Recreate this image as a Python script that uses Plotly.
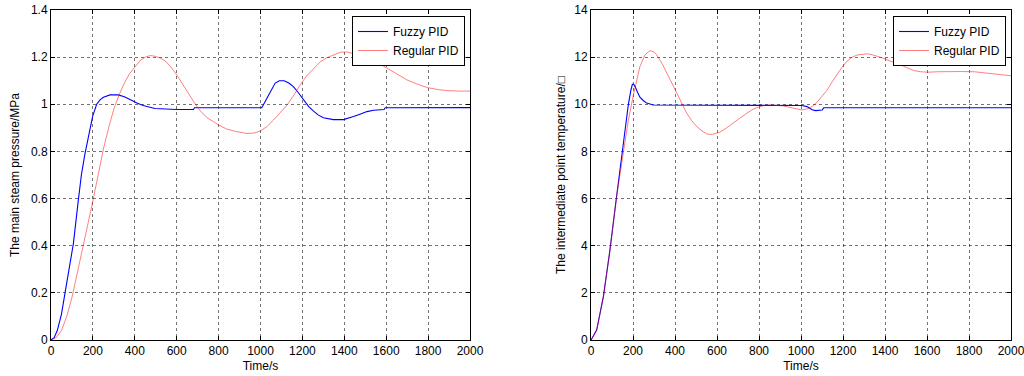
import plotly.graph_objects as go

# ---------------- data ----------------
# Left chart: main steam pressure (MPa)
p_fuzzy_t = [0, 15, 30, 50, 67, 85, 107, 130, 145, 162, 183, 199, 218, 235, 250, 282, 321, 350,
             377, 410, 440, 470, 496, 600, 680, 685, 1006, 1030, 1050, 1070, 1090, 1113, 1135,
             1157, 1180, 1205, 1230, 1252, 1275, 1300, 1348, 1396, 1420, 1444, 1475, 1508, 1540,
             1571, 1590, 1595, 2000]
p_fuzzy_v = [0, 0.01, 0.04, 0.11, 0.2, 0.3, 0.41, 0.59, 0.70, 0.79, 0.89, 0.95, 1.0, 1.02, 1.03,
             1.04, 1.04, 1.032, 1.02, 1.005, 0.995, 0.988, 0.982, 0.978, 0.978, 0.985, 0.985,
             1.025, 1.06, 1.09, 1.10, 1.10, 1.09, 1.075, 1.05, 1.018, 0.99, 0.972, 0.955, 0.943,
             0.935, 0.935, 0.94, 0.948, 0.958, 0.969, 0.975, 0.977, 0.978, 0.985, 0.986]

p_regular_t = [0, 25, 50, 75, 100, 125, 150, 175, 200, 225, 250, 275, 300, 325, 350, 375, 400,
               425, 450, 475, 500, 525, 550, 575, 600, 625, 650, 675, 700, 725, 750, 776, 800,
               839, 880, 935, 970, 1000, 1030, 1063, 1095, 1127, 1160, 1191, 1220, 1254, 1285,
               1318, 1350, 1382, 1410, 1446, 1490, 1541, 1605, 1650, 1700, 1750, 1796, 1850,
               1892, 1950, 2000]
p_regular_v = [0, 0.01, 0.04, 0.1, 0.18, 0.28, 0.38, 0.48, 0.59, 0.7, 0.81, 0.9, 0.98, 1.04,
               1.09, 1.13, 1.16, 1.185, 1.2, 1.207, 1.203, 1.195, 1.18, 1.155, 1.125, 1.09,
               1.055, 1.02, 0.985, 0.96, 0.94, 0.926, 0.912, 0.895, 0.885, 0.876, 0.878, 0.887,
               0.905, 0.934, 0.965, 0.997, 1.04, 1.085, 1.12, 1.153, 1.18, 1.198, 1.21, 1.221,
               1.222, 1.215, 1.2, 1.184, 1.153, 1.128, 1.103, 1.085, 1.071, 1.062, 1.058, 1.056,
               1.056]

# Right chart: intermediate point temperature
t_fuzzy_t = [0, 27, 59, 90, 122, 154, 178, 190, 197, 203, 210, 222, 233, 250, 265, 297, 1005,
             1029, 1053, 1070, 1085, 1101, 1108, 2000]
t_fuzzy_v = [0, 0.42, 1.84, 3.8, 6.1, 8.35, 10.0, 10.6, 10.85, 10.85, 10.75, 10.5, 10.3, 10.15,
             10.05, 9.97, 9.95, 9.9, 9.77, 9.73, 9.73, 9.76, 9.85, 9.85]

t_regular_t = [0, 27, 59, 90, 122, 154, 178, 202, 233, 257, 281, 300, 313, 340, 361, 385, 409,
               433, 456, 480, 504, 530, 552, 575, 600, 614, 646, 678, 710, 742, 770, 797, 825,
               853, 885, 917, 940, 965, 1005, 1036, 1055, 1076, 1100, 1124, 1148, 1172, 1196,
               1220, 1244, 1268, 1292, 1316, 1340, 1363, 1387, 1411, 1443, 1475, 1507, 1538,
               1570, 1602, 1650, 1698, 1760, 1825, 1860, 1889, 1940, 2000]
t_regular_v = [0, 0.42, 1.84, 3.8, 6.1, 7.92, 9.33, 10.4, 11.6, 12.1, 12.28, 12.22, 12.1, 11.7,
               11.3, 10.9, 10.47, 10.03, 9.62, 9.3, 9.05, 8.86, 8.74, 8.72, 8.78, 8.82, 9.0,
               9.22, 9.42, 9.62, 9.78, 9.88, 9.95, 9.97, 9.96, 9.93, 9.88, 9.83, 9.76, 9.82,
               9.92, 10.08, 10.32, 10.6, 10.95, 11.27, 11.58, 11.84, 12.0, 12.09, 12.13, 12.14,
               12.1, 12.05, 11.97, 11.88, 11.78, 11.67, 11.54, 11.43, 11.38, 11.36, 11.38, 11.39,
               11.39, 11.38, 11.35, 11.32, 11.27, 11.21]

x_ticks = [0, 200, 400, 600, 800, 1000, 1200, 1400, 1600, 1800, 2000]
left_y_ticks = [0, 0.2, 0.4, 0.6, 0.8, 1, 1.2, 1.4]
right_y_ticks = [0, 2, 4, 6, 8, 10, 12, 14]

series_names = ["Fuzzy PID", "Regular PID"]
x_title = "Time/s"
left_y_title = "The main steam pressure/MPa"
right_y_title = "The intermediate point temperature/\u25a1"

# ---------------- figure ----------------
BLUE = "#0000ff"
RED = "rgba(255,0,0,0.5)"
FONT = "Liberation Sans, Arial, sans-serif"

fig = go.Figure()
fig.add_trace(go.Scatter(x=p_fuzzy_t, y=p_fuzzy_v, name=series_names[0], mode="lines",
                         line=dict(color=BLUE, width=1.1), xaxis="x", yaxis="y", legend="legend"))
fig.add_trace(go.Scatter(x=p_regular_t, y=p_regular_v, name=series_names[1], mode="lines",
                         line=dict(color=RED, width=1), xaxis="x", yaxis="y", legend="legend"))
fig.add_trace(go.Scatter(x=t_fuzzy_t, y=t_fuzzy_v, name=series_names[0], mode="lines",
                         line=dict(color=BLUE, width=1.1), xaxis="x2", yaxis="y2", legend="legend2"))
fig.add_trace(go.Scatter(x=t_regular_t, y=t_regular_v, name=series_names[1], mode="lines",
                         line=dict(color=RED, width=1), xaxis="x2", yaxis="y2", legend="legend2"))

W, H = 1024, 376
y_dom = [1 - 340 / H, 1 - 10 / H]

common_axis = dict(
    showline=True, linecolor="black", linewidth=1, mirror="ticks",
    ticks="inside", ticklen=4, tickcolor="black", tickwidth=1,
    showgrid=True, gridcolor="rgba(0,0,0,0.55)", griddash="dot", gridwidth=1,
    zeroline=False, tickfont=dict(family=FONT, size=12, color="black"),
    automargin=False, ticklabeloverflow="allow",
)

fig.update_layout(
    width=W, height=H,
    margin=dict(l=0, r=0, t=0, b=0),
    paper_bgcolor="white", plot_bgcolor="white",
    font=dict(family=FONT, size=12, color="black"),
    xaxis=dict(domain=[51 / W, 470 / W], range=[0, 2000], tickvals=x_ticks, anchor="y",
               title=dict(text=x_title, standoff=4, font=dict(size=12)), **common_axis),
    yaxis=dict(domain=y_dom, range=[0, 1.4], tickvals=left_y_ticks, anchor="x",
               title=dict(text=left_y_title, standoff=8, font=dict(size=12)), **common_axis),
    xaxis2=dict(domain=[591 / W, 1011 / W], range=[0, 2000], tickvals=x_ticks, anchor="y2",
                title=dict(text=x_title, standoff=4, font=dict(size=12)), **common_axis),
    yaxis2=dict(domain=y_dom, range=[0, 14], tickvals=right_y_ticks, anchor="x2",
                title=dict(text=right_y_title, standoff=6, font=dict(size=12)), **common_axis),
    legend=dict(x=465 / W, y=1 - 16 / H, xanchor="right", yanchor="top",
                bgcolor="white", bordercolor="black", borderwidth=1,
                font=dict(family=FONT, size=12, color="black"), tracegroupgap=0,
                itemwidth=30),
    legend2=dict(x=1006 / W, y=1 - 16 / H, xanchor="right", yanchor="top",
                 bgcolor="white", bordercolor="black", borderwidth=1,
                 font=dict(family=FONT, size=12, color="black"), tracegroupgap=0,
                 itemwidth=30),
    showlegend=True,
)

fig.write_html(
    "out.html",
    config={"displayModeBar": False},
    post_script="document.body.style.margin='0';document.body.style.overflow='hidden';",
)
